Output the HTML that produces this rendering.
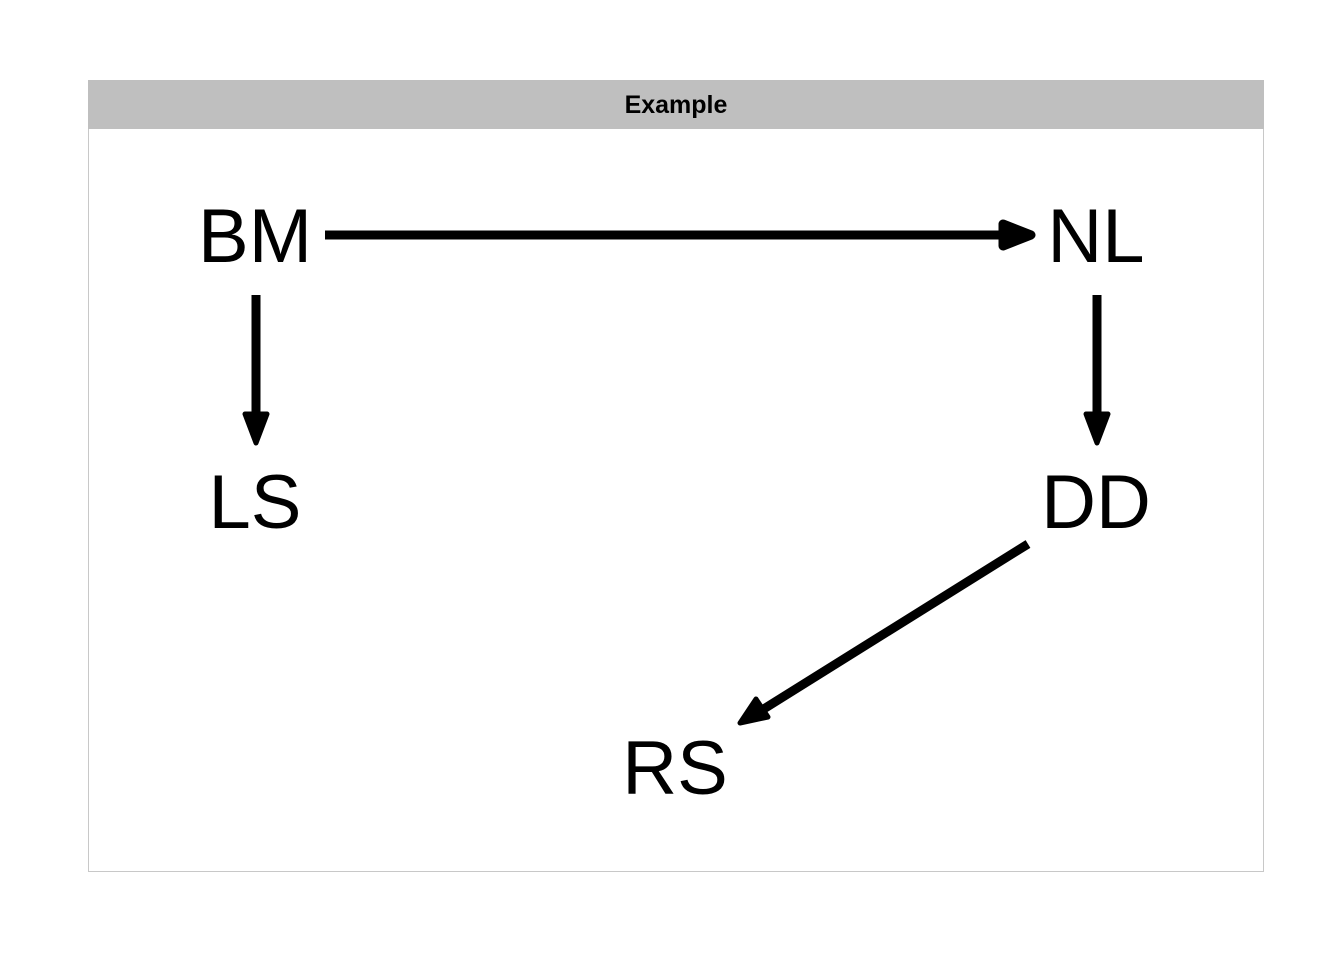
<!DOCTYPE html>
<html><head><style>body{margin:0;background:#fff}svg{display:block}</style></head><body>
<svg width="1344" height="960" viewBox="0 0 1344 960" xmlns="http://www.w3.org/2000/svg">
<rect x="88.5" y="80.5" width="1175" height="791" fill="#fff" stroke="#c8c8c8" stroke-width="1"/>
<rect x="88" y="80" width="1176" height="49" fill="#bfbfbf"/>
<text x="676" y="113" text-anchor="middle" font-family="Liberation Sans, sans-serif" font-weight="bold" font-size="25">Example</text>
<g font-family="Liberation Sans, sans-serif" font-size="76" text-anchor="middle" fill="#000">
<text x="255" y="262">BM</text>
<text x="1096" y="262">NL</text>
<text x="255" y="528">LS</text>
<text x="1096" y="528">DD</text>
<text x="675" y="794">RS</text>
</g>
<g stroke="#000" stroke-width="9" fill="#000" stroke-linejoin="round">
<line x1="325" y1="235" x2="1005" y2="235"/>
<polygon points="1031,235 1003,224 1003,246"/>
<line x1="256" y1="295" x2="256" y2="420"/>
<polygon points="256,443 245,414 267,414" stroke-width="5"/>
<line x1="1097" y1="295" x2="1097" y2="420"/>
<polygon points="1097,443 1086,414 1108,414" stroke-width="5"/>
<line x1="1028" y1="544" x2="762" y2="710"/>
<polygon points="740,723 756,699 768,717" stroke-width="5"/>
</g>
</svg>
</body></html>
